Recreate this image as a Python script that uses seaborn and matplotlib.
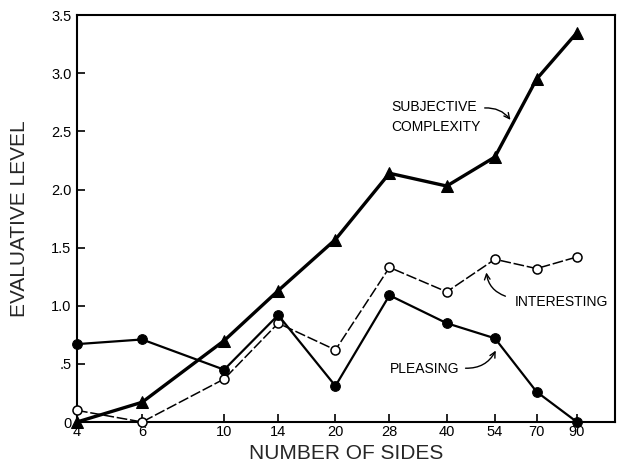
import matplotlib
matplotlib.use("Agg")
import matplotlib.pyplot as plt
import seaborn as sns
import pandas as pd
import numpy as np

sides = [4, 6, 10, 14, 20, 28, 40, 54, 70, 90]
complexity = [0.0, 0.17, 0.70, 1.13, 1.57, 2.14, 2.03, 2.28, 2.95, 3.35]
interesting = [0.10, 0.0, 0.37, 0.85, 0.62, 1.33, 1.12, 1.40, 1.32, 1.42]
pleasing = [0.67, 0.71, 0.45, 0.92, 0.31, 1.09, 0.85, 0.72, 0.26, 0.0]
y_ticks = [0, 0.5, 1.0, 1.5, 2.0, 2.5, 3.0, 3.5]
y_tick_labels = ["0", ".5", "1.0", "1.5", "2.0", "2.5", "3.0", "3.5"]

sns.set_style("ticks")
plt.rcParams['font.family'] = ['Liberation Sans', 'DejaVu Sans']

fig = plt.figure(figsize=(6.23, 4.74), dpi=100)
ax = fig.add_axes([0.1236, 0.1097, 0.987 - 0.1236, 0.968 - 0.1097])

df = pd.DataFrame({"sides": sides, "complexity": complexity,
                   "interesting": interesting, "pleasing": pleasing})

sns.lineplot(data=df, x="sides", y="complexity", ax=ax, color="black",
             linewidth=2.4, marker="^", markersize=9, markeredgecolor="black",
             markerfacecolor="black", clip_on=False, zorder=4)
sns.lineplot(data=df, x="sides", y="interesting", ax=ax, color="black",
             linewidth=1.1, dashes=False, marker="o", markersize=6.5,
             markerfacecolor="white", markeredgecolor="black",
             markeredgewidth=1.1, clip_on=False, zorder=3)
ax.lines[-1].set_dashes([7, 1.8])
sns.lineplot(data=df, x="sides", y="pleasing", ax=ax, color="black",
             linewidth=1.6, marker="o", markersize=7, markerfacecolor="black",
             markeredgecolor="black", clip_on=False, zorder=5)

ax.set_xscale("log")
ax.set_xlim(4, 114)
ax.set_ylim(0, 3.5)
ax.set_xticks(sides)
ax.set_xticklabels([str(s) for s in sides])
ax.xaxis.set_minor_locator(matplotlib.ticker.NullLocator())
ax.set_yticks(y_ticks)
ax.set_yticklabels(y_tick_labels)
ax.tick_params(axis="both", direction="in", length=6, width=1.2,
               labelsize=10.5, colors="black")
ax.tick_params(axis="x", pad=2)
ax.tick_params(axis="y", pad=4)
for sp in ax.spines.values():
    sp.set_visible(True)
    sp.set_linewidth(1.5)
    sp.set_color("black")

ax.set_xlabel("NUMBER OF SIDES", fontsize=15, labelpad=4)
ax.set_ylabel("EVALUATIVE LEVEL", fontsize=15, labelpad=16)

tkw = dict(fontsize=10, color="black", va="center", ha="left")
ax.text(28.4, 2.71, "SUBJECTIVE", **tkw)
ax.text(28.4, 2.54, "COMPLEXITY", **tkw)
ax.annotate("", xy=(60.1, 2.58), xytext=(49.8, 2.70),
            arrowprops=dict(arrowstyle="->", color="black", lw=1.0,
                            connectionstyle="arc3,rad=-0.3"))
ax.text(61.2, 1.03, "INTERESTING", **tkw)
ax.annotate("", xy=(51.1, 1.31), xytext=(58.6, 1.075),
            arrowprops=dict(arrowstyle="->", color="black", lw=1.0,
                            connectionstyle="arc3,rad=-0.35"))
ax.text(28.1, 0.456, "PLEASING", **tkw)
ax.annotate("", xy=(54.7, 0.636), xytext=(44.2, 0.464),
            arrowprops=dict(arrowstyle="->", color="black", lw=1.0,
                            connectionstyle="arc3,rad=0.35"))

fig.savefig("out.png", dpi=100)
